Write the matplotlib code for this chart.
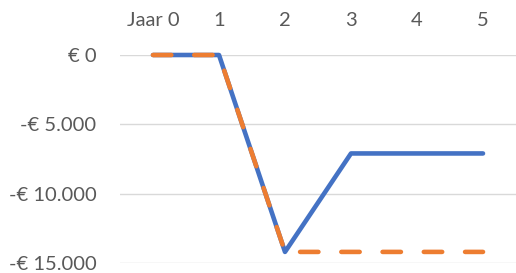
import matplotlib
matplotlib.use('Agg')
import matplotlib.pyplot as plt
from matplotlib.ticker import FuncFormatter

# data
years = ['Jaar 0', '1', '2', '3', '4', '5']
blue_vals = [0, 0, -14200, -7100, -7100, -7100]
orange_vals = [0, 0, -14200, -14200, -14200, -14200]
y_ticks = [0, -5000, -10000, -15000]

plt.rcParams['font.family'] = ['Lato', 'DejaVu Sans']

fig = plt.figure(figsize=(5.16, 2.73), dpi=100)
ax = fig.add_axes([120/516, 10/273, 396/516, 208/273])

x = range(len(years))
ax.plot(x, blue_vals, color='#4472C4', lw=3.3, solid_capstyle='round',
        solid_joinstyle='round', zorder=3)
ax.plot(x, orange_vals, color='#ED7D31', lw=3.3, dash_capstyle='round',
        dashes=(4, 5), zorder=4)

ax.set_xlim(-0.5, len(years) - 0.5)
ax.set_ylim(-15000, 0)
ax.set_xticks(list(x))
ax.set_xticklabels(years)
ax.set_yticks(y_ticks)


def euro(v, pos):
    if v == 0:
        return '€ 0'
    s = f'{abs(int(v)):,}'.replace(',', '.')
    return ('-' if v < 0 else '') + '€ ' + s


ax.yaxis.set_major_formatter(FuncFormatter(euro))
ax.xaxis.tick_top()
ax.tick_params(axis='x', length=0, pad=19, labelsize=14.5, labelcolor='#595959')
ax.tick_params(axis='y', length=0, pad=17, labelsize=14.5, labelcolor='#595959')
ax.grid(axis='y', color='#D9D9D9', lw=1.0, zorder=0)
ax.set_axisbelow(True)
for s in ax.spines.values():
    s.set_visible(False)
for ln in ax.lines:
    ln.set_clip_on(False)

fig.savefig('out.png', dpi=100, facecolor='white')
